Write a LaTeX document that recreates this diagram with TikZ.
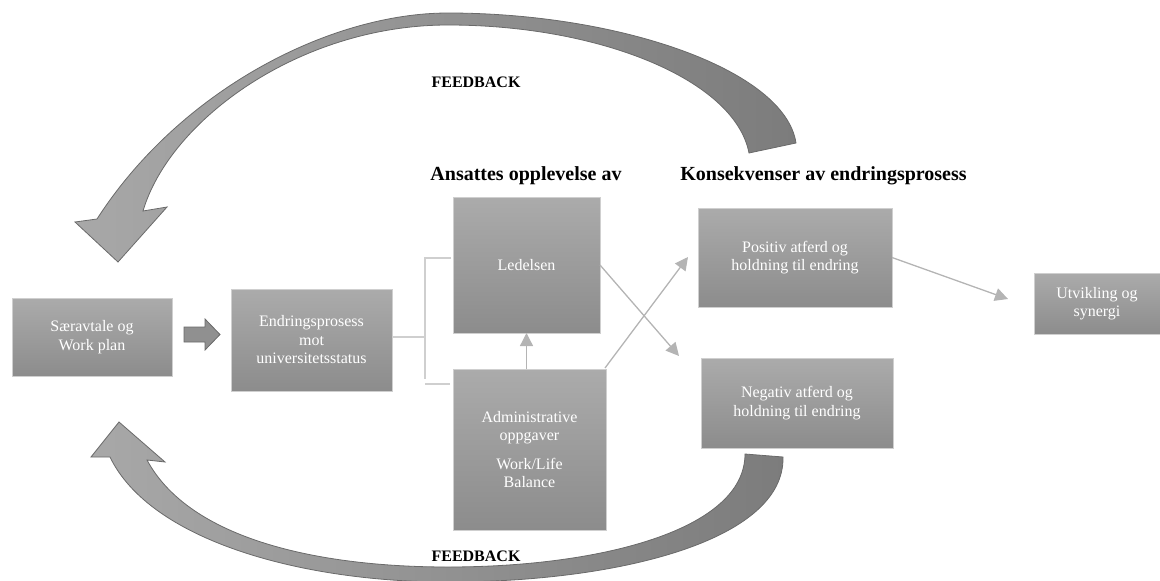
\documentclass[tikz,border=0pt]{standalone}
\usepackage{fontspec}
\setmainfont{Liberation Serif}
\usetikzlibrary{arrows.meta,calc}

\definecolor{boxtop}{HTML}{ABABAB}
\definecolor{boxbot}{HTML}{8C8C8C}
\definecolor{boxrim}{HTML}{CFCFCF}
\definecolor{linkgray}{HTML}{B4B4B4}
\definecolor{ringlight}{HTML}{A8A8A8}
\definecolor{ringdark}{HTML}{7C7C7C}
\definecolor{ringedge}{HTML}{6A6A6A}
\definecolor{blockfill}{HTML}{909090}

\begin{document}
\begin{tikzpicture}[x=1pt,y=-1pt,
  box/.style={draw=boxrim, line width=0.8pt, top color=boxtop, bottom color=boxbot,
    inner sep=0pt, outer sep=0pt, text=white, align=center,
    font=\fontsize{16}{18.5}\selectfont},
  link/.style={draw=linkgray, line width=1.3pt, -{Triangle[length=13pt,width=13pt]}},
  bracket/.style={draw=boxrim, line width=1.5pt},
  heading/.style={font=\bfseries\fontsize{20}{24}\selectfont, anchor=base, inner sep=0pt},
  fbtext/.style={font=\bfseries\fontsize{16}{19}\selectfont, inner sep=0pt},
  ring/.style={shade, left color=ringlight, right color=ringdark, draw=ringedge, line width=0.8pt}]

\useasboundingbox (0,0) rectangle (1160,581);

% feedback loops
\path[ring]
  (796,143) .. controls (785,70) and (620,13) .. (448,13)
  .. controls (330,13) and (180,90) .. (97,219)
  -- (75,222) -- (118,262) -- (167,207) -- (143,211)
  .. controls (170,120) and (300,25) .. (448,25)
  .. controls (600,25) and (735,80) .. (749,153) -- cycle;

\path[ring]
  (110,457) .. controls (150,540) and (300,582) .. (448,582)
  .. controls (620,582) and (785,540) .. (783,457)
  -- (745,454)
  .. controls (745,530) and (600,567) .. (448,567)
  .. controls (320,567) and (190,540) .. (147,460)
  -- (165,462) -- (119,422) -- (91,457) -- cycle;

\node[fbtext] (fb1) at (476,82.5) {FEEDBACK};
\node[fbtext] (fb2) at (476,556.5) {FEEDBACK};

% headings
\node[heading] (h1) at (526,180) {Ansattes opplevelse av};
\node[heading] (h2) at (823.5,180) {Konsekvenser av endringsprosess};

% boxes
\node[box, minimum width=160, minimum height=78] (sar) at (92,337) {Særavtale og\\Work plan};
\node[box, minimum width=161, minimum height=102] (endr) at (311.5,340) {Endringsprosess\\mot\\universitetsstatus};
\node[box, minimum width=147, minimum height=136] (lede) at (526.5,265) {Ledelsen};
\node[box, minimum width=153, minimum height=161] (admin) at (529.5,449.5)
  {Administrative\\oppgaver\\[10pt]Work/Life\\Balance};
\node[box, minimum width=194, minimum height=99] (pos) at (795,257.5) {Positiv atferd og\\holdning til endring};
\node[box, minimum width=192, minimum height=90] (neg) at (797,403) {Negativ atferd og\\holdning til endring};
\node[box, minimum width=126, minimum height=61] (utv) at (1097,303.5) {Utvikling og\\synergi};

% block arrow between the first two boxes
\draw[fill=blockfill, draw=ringedge, line width=0.8pt]
  (184,327) -- (205,327) -- (205,319) -- (220,334.5) -- (205,350) -- (205,342) -- (184,342) -- cycle;

% bracket joining the process box to the two experience boxes
\coordinate (bk) at (425,337);
\coordinate (b1) at (451,258);
\coordinate (b2) at (450,384);
\draw[bracket] (endr.east |- bk) -- (bk);
\draw[bracket] (b1) -- (b1 -| bk) -- ([yshift=5]b2 -| bk);
\draw[bracket] (b2 -| bk) -- (b2);

% thin connectors
\coordinate (tneg) at (679,356);
\coordinate (tpos) at (688,257);
\coordinate (tutv) at (1008,299);
\draw[link] (admin.north -| lede.south) -- (lede.south);
\draw[link] (lede.east) -- (tneg);
\draw[link] ([xshift=-1,yshift=1]admin.north east) -- (tpos);
\draw[link] (pos.east) -- (tutv);

\end{tikzpicture}
\end{document}
